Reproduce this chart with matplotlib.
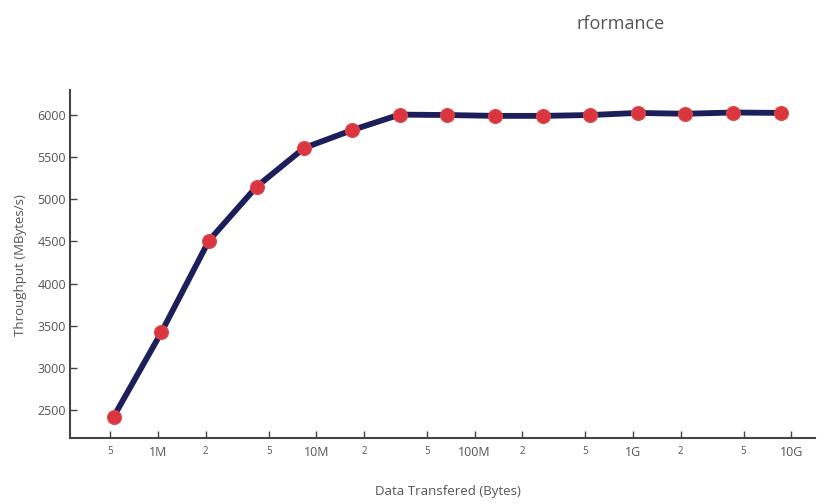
import numpy as np
import matplotlib.pyplot as plt

plt.rcParams['font.family'] = ['Open Sans', 'DejaVu Sans']

# transfer sizes: 512 KB doubling up to 8 GB
sizes = [2**p for p in range(19, 34)]
throughput = [2420, 3420, 4510, 5150, 5610, 5820, 6005, 6000,
              5990, 5990, 6000, 6025, 6015, 6030, 6025]

major_ticks = [1e6, 1e7, 1e8, 1e9, 1e10]
major_labels = ['1M', '10M', '100M', '1G', '10G']
minor_ticks = [5e5, 2e6, 5e6, 2e7, 5e7, 2e8, 5e8, 2e9, 5e9]
minor_labels = ['5', '2', '5', '2', '5', '2', '5', '2', '5']
y_ticks = [2500, 3000, 3500, 4000, 4500, 5000, 5500, 6000]

fig = plt.figure(figsize=(8.17, 5.04), dpi=100)
W, H = 817, 504
ax = fig.add_axes([70/W, 1 - 438/H, (815 - 70)/W, (438 - 90)/H])

ax.plot(sizes, throughput, color='#1c1f5a', lw=4.2, zorder=2,
        solid_capstyle='round', solid_joinstyle='round')
ax.scatter(sizes, throughput, s=100, color='#d9363e', zorder=3,
           edgecolors='#e0464c', linewidths=0.8)

ax.set_xscale('log')
ax.set_xlim(10**5.444, 10**10.15)
ax.set_ylim(2168, 6297)

ax.set_xticks(major_ticks)
ax.set_xticklabels(major_labels, fontsize=9, color='#555555')
ax.set_xticks(minor_ticks, minor=True)
ax.set_xticklabels(minor_labels, minor=True, fontsize=7, color='#555555')
ax.set_yticks(y_ticks)
ax.set_yticklabels([str(v) for v in y_ticks], fontsize=9, color='#555555')

ax.tick_params(axis='both', which='both', direction='in', length=5,
               width=1, color='#444444', pad=6)
ax.tick_params(axis='y', pad=3)

for side in ['top', 'right']:
    ax.spines[side].set_visible(False)
for side in ['left', 'bottom']:
    ax.spines[side].set_color('#444444')
    ax.spines[side].set_linewidth(1.5)

ax.set_xlabel('Data Transfered (Bytes)', fontsize=9.5, color='#555555')
ax.xaxis.set_label_coords((448 - 70)/(815 - 70), -(485 - 438)/(438 - 90))
ax.set_ylabel('Throughput (MBytes/s)', fontsize=9.5, color='#555555')
ax.yaxis.set_label_coords(-(70 - 27)/(815 - 70), (438 - 265)/(438 - 90))

fig.text(577/W, 1 - 24/H, 'rformance', fontsize=13, color='#555555',
         ha='left', va='center')

fig.savefig('out.png', dpi=100)
